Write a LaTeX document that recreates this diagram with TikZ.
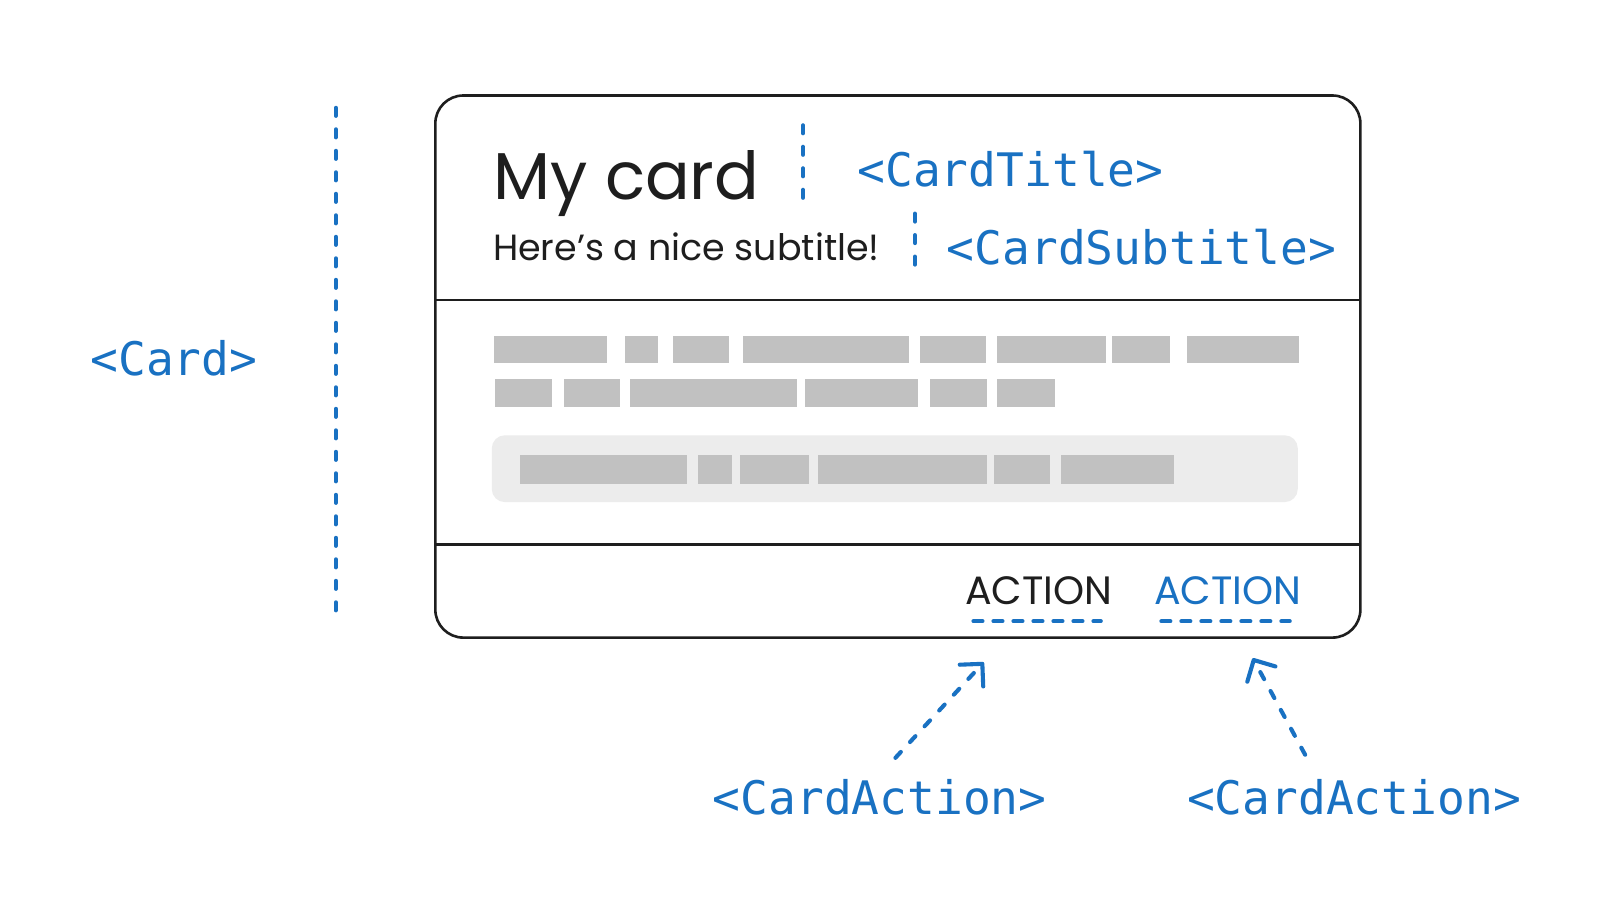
\documentclass[tikz,border=0pt]{standalone}
\usepackage{fontspec}
\setmainfont{Poppins}
\newfontfamily\monof{DejaVu Sans Mono}
\usetikzlibrary{arrows.meta}
\definecolor{ink}{HTML}{1E1E1E}
\definecolor{blu}{HTML}{1971C2}
\definecolor{barc}{HTML}{C1C1C1}
\definecolor{panelc}{HTML}{ECECEC}
\begin{document}
\begin{tikzpicture}[x=1pt,y=-1pt,scale=1.0267,transform shape,
  tag/.style={text=blu, font=\monof\fontsize{45}{50}\selectfont, inner sep=0pt, anchor=base west},
  hand/.style={text=ink, inner sep=0pt, anchor=base west},
  guide/.style={draw=blu, line width=4.1pt, line cap=round, dash pattern=on 8pt off 13.5pt},
  uline/.style={guide, dash pattern=on 9pt off 11pt},
  ptr/.style={guide, -{Straight Barb[length=16pt,width=32pt,round]}},
  cardline/.style={draw=ink, line width=2.6pt},
  barf/.style={fill=barc}]
\useasboundingbox[fill=white] (0,0) rectangle (1568.12,895.1);

% card frame
\node[cardline, rounded corners=28pt, minimum width=901pt, minimum height=528pt, inner sep=0pt] (card) at (874.5,357) {};
\coordinate (d1l) at (424,292); \coordinate (d1r) at (1325,292);
\coordinate (d2l) at (424,530); \coordinate (d2r) at (1325,530);
\draw[cardline] (d1l) -- (d1r);
\draw[cardline] (d2l) -- (d2r);

% header texts
\node[hand, font=\fontsize{64.5}{64}\selectfont] (mytitle) at (480,194) {My card};
\node[hand, font=\fontsize{35.5}{36}\selectfont] (mysub) at (480,254) {Here{\char"0027}s a nice subtitle!};

% body bars
\foreach \a/\b in {481/591,609/641,655/710,724/885,896/960,971/1077,1083/1140,1156/1265}
  \fill[barf] (\a,327) rectangle (\b,354);
\foreach \a/\b in {482/538,549/604,614/776,784/894,906/961,971/1028}
  \fill[barf] (\a,369) rectangle (\b,396);
\fill[panelc, rounded corners=13pt] (479,424) rectangle (1264,489);
\foreach \a/\b in {506/669,680/713,721/788,797/961,968/1023,1033/1143}
  \fill[barf] (\a,443) rectangle (\b,471);

% footer actions
\node[hand, font=\fontsize{38.5}{38}\selectfont] (act1) at (940,589) {ACTION};
\node[hand, text=blu, font=\fontsize{38.5}{38}\selectfont] (act2) at (1124,589) {ACTION};

% labels
\node[tag] (lcard) at (88,366) {<Card>};
\node[tag] (ltitle) at (835,182) {<CardTitle>};
\node[tag] (lsub) at (922,258) {<CardSubtitle>};
\node[tag] (lact1) at (694,793) {<CardAction>};
\node[tag] (lact2) at (1156,793) {<CardAction>};

% guides
\coordinate (g1a) at (327,105); \coordinate (g1b) at (327,603);
\coordinate (g2a) at (782,122); \coordinate (g2b) at (782,203);
\coordinate (g3a) at (891,208); \coordinate (g3b) at (891,268);
\coordinate (u1a) at (948,605); \coordinate (u1b) at (1072,605);
\coordinate (u2a) at (1131,605); \coordinate (u2b) at (1256,605);
\draw[guide] (g1a) -- (g1b);
\draw[guide] (g2a) -- (g2b);
\draw[guide] (g3a) -- (g3b);
\draw[uline] (u1a) -- (u1b);
\draw[uline] (u2a) -- (u2b);

% arrows
\coordinate (a1s) at (872,738); \coordinate (a1e) at (958,645);
\coordinate (a2s) at (1271,735); \coordinate (a2e) at (1220,641);
\draw[ptr] (a1s) -- (a1e);
\draw[ptr] (a2s) -- (a2e);
\end{tikzpicture}
\end{document}
